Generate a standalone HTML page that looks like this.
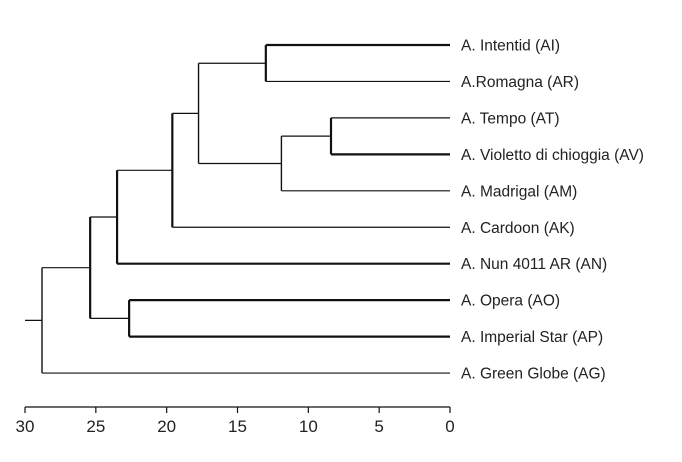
<!DOCTYPE html>
<html><head><meta charset="utf-8"><style>
body{margin:0;background:#fff;}
svg text{font-family:"Liberation Sans",sans-serif;fill:#222;}
</style></head><body>
<svg id="chart" width="682" height="457" xmlns="http://www.w3.org/2000/svg"></svg>
<script>
const labels=["A. Intentid (AI)","A.Romagna (AR)","A. Tempo (AT)","A. Violetto di chioggia (AV)","A. Madrigal (AM)","A. Cardoon (AK)","A. Nun 4011 AR (AN)","A. Opera (AO)","A. Imperial Star (AP)","A. Green Globe (AG)"];
const boldLeaves=[1,0,0,1,0,0,1,1,1,0];
// merges: [childA, childB, height]; leaves 0..9, internal nodes 10+
const merges=[[0,1,13.0],[2,3,8.4],[11,4,11.9],[10,12,17.75],[13,5,19.6],[14,6,23.5],[7,8,22.65],[15,16,25.4],[17,9,28.8]];
const boldLinks=[1,1,0,0,1,1,1,1,0];
const ticks=[30,25,20,15,10,5,0];
const svg=document.getElementById('chart');
const NS="http://www.w3.org/2000/svg";
const x0=450,x30=25;
const X=v=>x0-(x0-x30)*v/30;
const Y=i=>45+i*36.45;
function line(x1,y1,x2,y2,w,name){const l=document.createElementNS(NS,'line');
l.setAttribute('x1',x1);l.setAttribute('y1',y1);l.setAttribute('x2',x2);l.setAttribute('y2',y2);
l.setAttribute('stroke','#111');l.setAttribute('stroke-width',w);


svg.appendChild(l);}
function text(x,y,s,anchor,size,name){const t=document.createElementNS(NS,'text');
t.setAttribute('x',x);t.setAttribute('y',y);t.setAttribute('text-anchor',anchor);t.setAttribute('font-size',size);
t.textContent=s;


svg.appendChild(t);}
const nodes=[];
labels.forEach((s,i)=>{nodes.push({y:Y(i),h:0,bold:boldLeaves[i]});text(461,Y(i)+5.5,s,'start',15.5,'leaf-label');});
merges.forEach((m,k)=>{const a=nodes[m[0]],b=nodes[m[1]],x=X(m[2]);
line(X(a.h),a.y,x,a.y,a.bold?2.2:1.2,'branch');
line(X(b.h),b.y,x,b.y,b.bold?2.2:1.2,'branch');
line(x,a.y,x,b.y,boldLinks[k]?2.2:1.4,'node-link');
nodes.push({y:(a.y+b.y)/2,h:m[2],bold:0});});
const root=nodes[nodes.length-1];
line(X(30),root.y,X(root.h),root.y,1.2,'root-stub');
line(x30,407,x0,407,1.2,'x-axis-line');
ticks.forEach(t=>{line(X(t),407,X(t),413,1.2,'x-tick');text(X(t),432,String(t),'middle',17,'x-tick-label');});
</script>
</body></html>
